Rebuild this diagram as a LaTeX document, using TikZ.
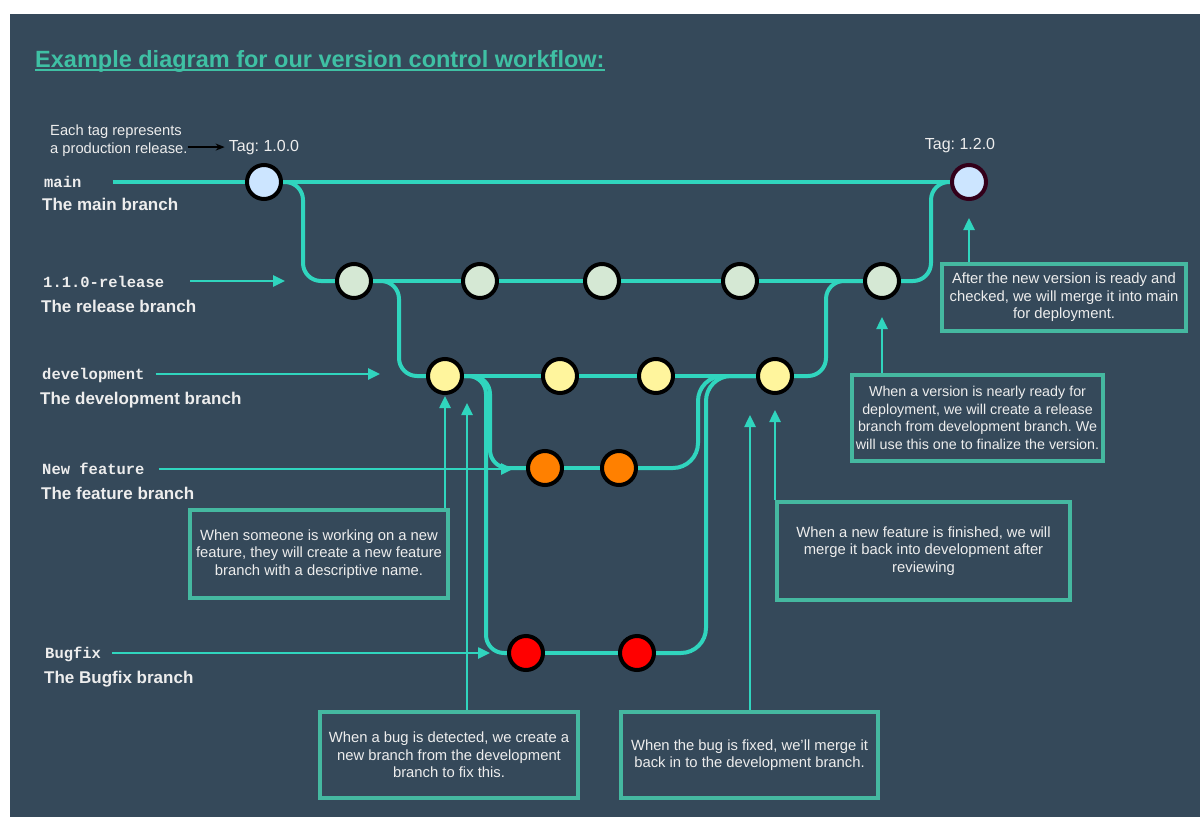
\documentclass[tikz,border=0pt]{standalone}
\usepackage{fontspec}
\setmainfont{Liberation Sans}
\setmonofont{Liberation Mono}
\usetikzlibrary{positioning,calc,arrows.meta,backgrounds}
\frenchspacing

\definecolor{bgcol}{HTML}{35495A}
\definecolor{flow}{HTML}{30D5BE}
\definecolor{boxline}{HTML}{45B8A0}
\definecolor{titlecol}{HTML}{3FC0A4}
\definecolor{txt}{HTML}{EDEDED}
\definecolor{mainfill}{HTML}{CCE5FF}
\definecolor{relfill}{HTML}{D5E8D4}
\definecolor{devfill}{HTML}{FFF59D}
\definecolor{featfill}{HTML}{FF8000}
\definecolor{bugfill}{HTML}{FF0000}
\definecolor{tagring}{HTML}{33001A}

\tikzset{
  commit/.style={circle, draw=black, line width=4pt, minimum size=34pt, inner sep=0pt},
  branch/.style={draw=flow, line width=4pt, rounded corners=18pt},
  pointer/.style={draw=flow, line width=2.5pt, -{Triangle[length=12pt,width=11pt]}},
  note/.style={draw=boxline, line width=4pt, fill=bgcol, text=txt, align=center,
    font=\fontsize{14.8}{17.5}\selectfont, inner sep=0pt},
  codelbl/.style={anchor=base west, text=txt, font=\ttfamily\bfseries\fontsize{15.5}{18}\selectfont, inner sep=0pt},
  desclbl/.style={anchor=base west, text=txt, font=\bfseries\fontsize{17}{20}\selectfont, inner sep=0pt},
  taglbl/.style={anchor=base, text=txt, font=\fontsize{16}{19}\selectfont, inner sep=0pt},
}

\begin{document}
\begin{tikzpicture}[x=1pt, y=-1pt]
    \useasboundingbox (0,0) rectangle (1200,817);

    % Title
    \node[anchor=base west, inner sep=0pt, text=titlecol, font=\bfseries\fontsize{23.5}{27}\selectfont]
        (title) at (35,67) {Example diagram for our version control workflow:};
    \draw[titlecol, line width=2pt] ([yshift=-3pt]title.base west) -- ([yshift=-3pt]title.base east);

    % Branch names
    \node[codelbl] (mainlbl) at (44,187) {main};
    \node[desclbl] (maindesc) at (42,210) {The main branch};
    \node[codelbl] (rellbl) at (43,287) {1.1.0-release};
    \node[desclbl] (reldesc) at (41,312) {The release branch};
    \node[codelbl] (devlbl) at (42,379) {development};
    \node[desclbl] (devdesc) at (40,404) {The development branch};
    \node[codelbl] (featlbl) at (42,474) {New feature};
    \node[desclbl] (featdesc) at (41,499) {The feature branch};
    \node[codelbl] (buglbl) at (45,658) {Bugfix};
    \node[desclbl] (bugdesc) at (44,683) {The Bugfix branch};

    % Tags
    \node[anchor=north west, align=left, inner sep=0pt, text=txt, font=\fontsize{14.7}{18}\selectfont]
        (tagnote) at (50,125) {Each tag represents\\a production release.};
    \node[taglbl] (tag1) at (264,151) {Tag: 1.0.0};
    \node[taglbl] (tag2) at (960,149) {Tag: 1.2.0};

    % Commits
    \node[commit, fill=mainfill] (M1) at (264,182) {};
    \node[commit, fill=mainfill, draw=tagring] (M2) at (969,182) {};

    \node[commit, fill=relfill] (R1) at (354,281) {};
    \node[commit, fill=relfill] (R2) at (480,281) {};
    \node[commit, fill=relfill] (R3) at (602,281) {};
    \node[commit, fill=relfill] (R4) at (740,281) {};
    \node[commit, fill=relfill] (R5) at (882,281) {};

    \node[commit, fill=devfill] (D1) at (445,376) {};
    \node[commit, fill=devfill] (D2) at (560,376) {};
    \node[commit, fill=devfill] (D3) at (656,376) {};
    \node[commit, fill=devfill] (D4) at (775,376) {};

    \node[commit, fill=featfill] (F1) at (545,468) {};
    \node[commit, fill=featfill] (F2) at (619,468) {};

    \node[commit, fill=bugfill] (B1) at (526,653) {};
    \node[commit, fill=bugfill] (B2) at (637,653) {};

    % Branch lines under the commits
    \begin{scope}[on background layer]
        \fill[white] (0,0) rectangle (1200,817);
        \fill[bgcol] (10,14) rectangle (1200,817);

        \draw[branch, shorten <=31pt] (mainlbl.east |- M1) -- (M1);
        \draw[branch] (M1) -- (M2);
        \draw[branch] (R1) -- (R2) -- (R3) -- (R4) -- (R5);
        \draw[branch] (D1) -- (D2) -- (D3) -- (D4);
        \draw[branch] (F1) -- (F2);
        \draw[branch] (B1) -- (B2);

        \draw[branch] (M1.east) -- ++(20,0) |- (R1.west);
        \draw[branch] (R1.east) -- ++(26,0) |- (D1.west);
        \draw[branch] (D1.east) -- ++(26,0) |- (F1.west);
        \draw[branch] (D1.east) -- ++(22,0) |- (B1.west);
        \draw[branch, rounded corners=25pt] (F2.east) -- ++(60,0) |- (D4.west);
        \draw[branch, rounded corners=25pt] (B2.east) -- ++(50,0) |- (D4.west);
        \draw[branch] (D4.east) -- ++(32,0) |- (R5.west);
        \draw[branch] (R5.east) -- ++(30,0) |- (M2.west);
    \end{scope}

    % Explanations
    \node[note, minimum width=244pt, minimum height=67pt] (mergemain) at (1064,297.5)
        {After the new version is ready and\\checked, we will merge it into main\\for deployment.};
    \node[note, minimum width=251pt, minimum height=86pt, font=\fontsize{14.3}{17.5}\selectfont] (makerelease) at (977.5,418)
        {When a version is nearly ready for\\deployment, we will create a release\\branch from development branch. We\\will use this one to finalize the version.};
    \node[note, minimum width=258pt, minimum height=88pt] (makefeature) at (319,554)
        {When someone is working on a new\\feature, they will create a new feature\\branch with a descriptive name.};
    \node[note, minimum width=293pt, minimum height=98pt] (mergefeature) at (923.5,551)
        {When a new feature is finished, we will\\merge it back into development after\\reviewing};
    \node[note, minimum width=258pt, minimum height=86pt] (makebugfix) at (449,755)
        {When a bug is detected, we create a\\new branch from the development\\branch to fix this.};
    \node[note, minimum width=257pt, minimum height=86pt] (mergebugfix) at (749.5,755)
        {When the bug is fixed, we'll merge it\\back in to the development branch.};

    % Arrow tips
    \coordinate (reltip) at (285,281);
    \coordinate (devtip) at (380,374);
    \coordinate (feattip) at (513,469);
    \coordinate (bugtip) at (490,653);
    \coordinate (newbugtip) at (467,403);
    \coordinate (fixtip) at (750,415);

    % Pointers
    \draw[-{Stealth[length=9pt,width=7pt]}, black, line width=1.5pt, shorten >=4pt]
        (tagnote.east |- tag1.west) -- (tag1.west);
    \draw[pointer, shorten <=26pt] (rellbl.east |- reltip) -- (reltip);
    \draw[pointer, shorten <=11pt] (devlbl.east |- devtip) -- (devtip);
    \draw[pointer, shorten <=14pt] (featlbl.east |- feattip) -- (feattip);
    \draw[pointer, shorten <=11pt] (buglbl.east |- bugtip) -- (bugtip);

    \draw[pointer, shorten >=17pt] (mergemain.north -| M2) -- (M2.south);
    \draw[pointer, shorten >=17pt] (makerelease.north -| R5) -- (R5.south);
    \draw[pointer, shorten >=1pt] (makefeature.north -| D1) -- (D1.south);
    \draw[pointer, shorten >=15pt] (mergefeature.north -| D4) -- (D4.south);
    \draw[pointer] (makebugfix.north -| newbugtip) -- (newbugtip);
    \draw[pointer] (mergebugfix.north -| fixtip) -- (fixtip);
\end{tikzpicture}
\end{document}
